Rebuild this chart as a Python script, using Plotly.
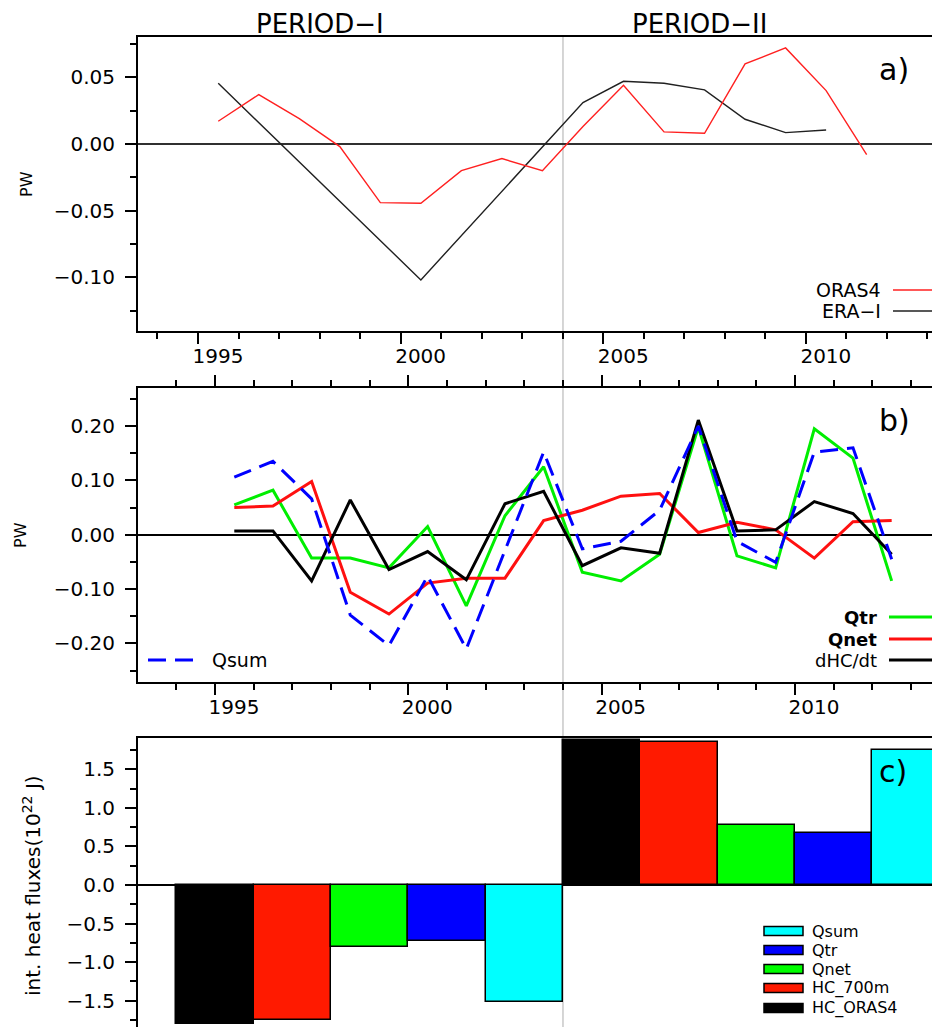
import plotly.graph_objects as go

# ---------------- data ----------------
# panel a) annual values (plotted at mid-year)
oras4_years = [1995.5, 1996.5, 1997.5, 1998.5, 1999.5, 2000.5, 2001.5, 2002.5, 2003.5,
               2004.5, 2005.5, 2006.5, 2007.5, 2008.5, 2009.5, 2010.5, 2011.5]
oras4 = [0.017, 0.037, 0.019, -0.002, -0.044, -0.0445, -0.020, -0.011, -0.020,
         0.013, 0.044, 0.009, 0.008, 0.060, 0.072, 0.040, -0.008]
era_years = [1995.5, 2000.5, 2004.5, 2005.5, 2006.5, 2007.5, 2008.5, 2009.5, 2010.5]
era = [0.0455, -0.102, 0.031, 0.047, 0.0455, 0.0405, 0.0185, 0.0085, 0.0105]

# panel b) annual values
b_years = [1995.5, 1996.5, 1997.5, 1998.5, 1999.5, 2000.5, 2001.5, 2002.5, 2003.5,
           2004.5, 2005.5, 2006.5, 2007.5, 2008.5, 2009.5, 2010.5, 2011.5, 2012.5]
qtr = [0.055, 0.082, -0.043, -0.043, -0.061, 0.015, -0.131, 0.035, 0.125,
       -0.069, -0.085, -0.036, 0.198, -0.039, -0.061, 0.195, 0.141, -0.085]
qnet = [0.050, 0.053, 0.098, -0.106, -0.146, -0.089, -0.080, -0.080, 0.026,
        0.045, 0.071, 0.076, 0.004, 0.023, 0.009, -0.043, 0.024, 0.026]
dhcdt = [0.007, 0.007, -0.085, 0.064, -0.064, -0.031, -0.083, 0.057, 0.080,
         -0.057, -0.024, -0.034, 0.211, 0.007, 0.009, 0.061, 0.039, -0.036]
qsum = [0.106, 0.135, 0.066, -0.148, -0.204, -0.076, -0.210, -0.030, 0.152,
        -0.026, -0.012, 0.045, 0.200, -0.012, -0.051, 0.152, 0.160, -0.045]

# panel c) integrated heat fluxes per period (10^22 J)
period_names = ["PERIOD\u2212I", "PERIOD\u2212II"]
period_start = [1994, 2004]
c_series = ["HC_ORAS4", "HC_700m", "Qnet", "Qtr", "Qsum"]
hc_oras4 = [-1.80, 1.88]
hc_700m = [-1.75, 1.85]
c_qnet = [-0.80, 0.78]
c_qtr = [-0.73, 0.67]
c_qsum = [-1.52, 1.75]
c_values = [hc_oras4, hc_700m, c_qnet, c_qtr, c_qsum]
c_colors = ["#000000", "#ff1a00", "#00ff00", "#0000ff", "#00ffff"]

tick_years = [1995, 2000, 2005, 2010]
split_year = 2004

# ---------------- figure ----------------
# the page body has an 8px margin; the figure is sized to fill the rest of the window
OX, OY = 8, 8
W, H = 940 - OX, 1027 - OY
FONT = "DejaVu Sans"

def px(x):
    return (x - OX) / W

def py(y):
    return 1 - (y - OY) / H

fig = go.Figure()

# panel a
fig.add_trace(go.Scatter(x=era_years, y=era, mode="lines", line=dict(color="#202020", width=1.4),
                         xaxis="x", yaxis="y", showlegend=False))
fig.add_trace(go.Scatter(x=oras4_years, y=oras4, mode="lines", line=dict(color="#ff2020", width=1.4),
                         xaxis="x", yaxis="y", showlegend=False))

# panel b
fig.add_trace(go.Scatter(x=b_years, y=qtr, mode="lines", line=dict(color="#00ee00", width=3),
                         xaxis="x2", yaxis="y2", showlegend=False))
fig.add_trace(go.Scatter(x=b_years, y=qnet, mode="lines", line=dict(color="#ff1010", width=3),
                         xaxis="x2", yaxis="y2", showlegend=False))
fig.add_trace(go.Scatter(x=b_years, y=dhcdt, mode="lines", line=dict(color="#000000", width=3),
                         xaxis="x2", yaxis="y2", showlegend=False))
fig.add_trace(go.Scatter(x=b_years, y=qsum, mode="lines",
                         line=dict(color="#0000ff", width=3, dash="18px,9px"),
                         xaxis="x2", yaxis="y2", showlegend=False))

# panel c bars: each series occupies a 2-year slot within each period
for i, (name, vals, col) in enumerate(zip(c_series, c_values, c_colors)):
    xs = [ps + 2 * i + 1 for ps in period_start]
    fig.add_trace(go.Bar(x=xs, y=vals, width=2, name=name,
                         marker=dict(color=col, line=dict(color="black", width=1.5)),
                         xaxis="x3", yaxis="y3", showlegend=False))

tickfont = dict(family=FONT, size=20, color="black")
minor_common = dict(ticks="outside", ticklen=6, tickwidth=2, tickcolor="black")

xa_dom = [px(138), 1.0]
dom_a = [py(331), py(37)]
dom_b = [py(682), py(388)]
dom_c = [0.0, py(738)]

fig.update_layout(
    width=W, height=H,
    margin=dict(l=0, r=0, t=0, b=0, autoexpand=False),
    paper_bgcolor="white", plot_bgcolor="rgba(0,0,0,0)",
    barmode="overlay", bargap=0,
    xaxis=dict(domain=xa_dom, anchor="y", range=[1993.52, 2013.31], automargin=False,
               tickvals=tick_years, ticktext=[str(t) for t in tick_years],
               ticks="outside", ticklen=11, tickwidth=2, tickcolor="black",
               minor=dict(dtick=1, tick0=1995, **minor_common),
               showline=True, linecolor="black", linewidth=2, mirror=True,
               showgrid=False, zeroline=False, tickfont=tickfont,
               ticklabelshift=20, ticklabelstandoff=-5),
    yaxis=dict(domain=dom_a, anchor="x", range=[-0.1403, 0.0802], automargin=False,
               tick0=0, dtick=0.05, tickformat=".2f",
               ticks="outside", ticklen=11, tickwidth=2, tickcolor="black",
               minor=dict(dtick=0.025, tick0=0, **minor_common),
               showline=True, linecolor="black", linewidth=2,
               showgrid=False, zeroline=True, zerolinecolor="#303030", zerolinewidth=1.5,
               tickfont=tickfont, ticklabelstandoff=6),
    xaxis2=dict(domain=xa_dom, anchor="y2", range=[1993.01, 2013.75], automargin=False,
                tickvals=tick_years, ticktext=[str(t) for t in tick_years],
                ticks="outside", ticklen=11, tickwidth=2, tickcolor="black",
                minor=dict(dtick=1, tick0=1995, **minor_common),
                showline=True, linecolor="black", linewidth=2, mirror="ticks",
                showgrid=False, zeroline=False, tickfont=tickfont,
                ticklabelshift=19, ticklabelstandoff=-5),
    yaxis2=dict(domain=dom_b, anchor="x2", range=[-0.271, 0.270], automargin=False,
                tick0=0, dtick=0.1, tickformat=".2f",
                ticks="outside", ticklen=11, tickwidth=2, tickcolor="black",
                minor=dict(dtick=0.05, tick0=0, **minor_common),
                showline=True, linecolor="black", linewidth=2,
                showgrid=False, zeroline=True, zerolinecolor="black", zerolinewidth=1.5,
                tickfont=tickfont, ticklabelstandoff=6),
    xaxis3=dict(domain=xa_dom, anchor="y3", range=[1993.01, 2013.75], automargin=False,
                showticklabels=False, ticks="",
                showline=True, linecolor="black", linewidth=2, mirror=True,
                showgrid=False, zeroline=False),
    yaxis3=dict(domain=dom_c, anchor="x3", range=[-1.841, 1.906], automargin=False,
                tick0=0, dtick=0.5, tickformat=".1f",
                ticks="outside", ticklen=11, tickwidth=2, tickcolor="black",
                minor=dict(dtick=0.25, tick0=0, **minor_common),
                showline=True, linecolor="black", linewidth=2,
                showgrid=False, zeroline=True, zerolinecolor="black", zerolinewidth=2,
                tickfont=tickfont, ticklabelstandoff=6),
)

shapes = []
# period divider
shapes.append(dict(type="line", xref="x2", yref="paper", x0=split_year, x1=split_year,
                   y0=0, y1=py(37), line=dict(color="#c8c8c8", width=1.5), layer="below"))

ann = []
def text(x, y, s, size=18, xanchor="center", yanchor="middle", angle=0, bold=False, pad=1):
    ann.append(dict(x=px(x), y=py(y), xref="paper", yref="paper", text=(f"<b>{s}</b>" if bold else s),
                    showarrow=False, xanchor=xanchor, yanchor=yanchor, textangle=angle, borderpad=pad,
                    font=dict(family=FONT, size=size, color="black")))

# period titles
text(320, 8, period_names[0], size=26, yanchor="top", pad=0)
text(699, 8, period_names[1], size=26, yanchor="top", pad=0)
# panel letters
text(894, 70, "a)", size=30)
text(894, 420, "b)", size=30)
text(893, 771, "c)", size=30)
# y titles
text(26, 184, "PW", size=16, angle=-90)
text(20, 535, "PW", size=16, angle=-90)
text(32, 886, "int. heat fluxes(10<sup>22</sup> J)", size=20, angle=-90)

# legend a
text(882, 290, "ORAS4", size=19, xanchor="right", pad=0)
text(882, 311, "ERA\u2212I", size=19, xanchor="right", pad=0)
shapes.append(dict(type="line", xref="paper", yref="paper", x0=px(893), x1=1.0, y0=py(290), y1=py(290),
                   line=dict(color="#ff2020", width=1.5)))
shapes.append(dict(type="line", xref="paper", yref="paper", x0=px(893), x1=1.0, y0=py(311), y1=py(311),
                   line=dict(color="#202020", width=1.5)))

# legend b
for lab, yy, col, b in [("Qtr", 617, "#00ee00", True), ("Qnet", 639, "#ff1010", True),
                        ("dHC/dt", 660, "#000000", False)]:
    text(878, yy, lab, size=18, xanchor="right", bold=b, pad=0)
    shapes.append(dict(type="line", xref="paper", yref="paper", x0=px(889), x1=1.0, y0=py(yy), y1=py(yy),
                       line=dict(color=col, width=3)))
shapes.append(dict(type="line", xref="paper", yref="paper", x0=px(148), x1=px(201), y0=py(660), y1=py(660),
                   line=dict(color="#0000ff", width=3, dash="18px,9px")))
text(210, 660, "Qsum", size=19, xanchor="left")

# legend c
for k, yy in zip([4, 3, 2, 1, 0], [931, 950, 969, 988, 1008]):
    shapes.append(dict(type="rect", xref="paper", yref="paper", x0=px(764), x1=px(803),
                       y0=py(yy + 4.5), y1=py(yy - 4.5), fillcolor=c_colors[k],
                       line=dict(color="black", width=1.5)))
    text(811, yy, c_series[k], size=16, xanchor="left", pad=0)

fig.update_layout(shapes=shapes, annotations=ann)
fig.write_html("out.html")
